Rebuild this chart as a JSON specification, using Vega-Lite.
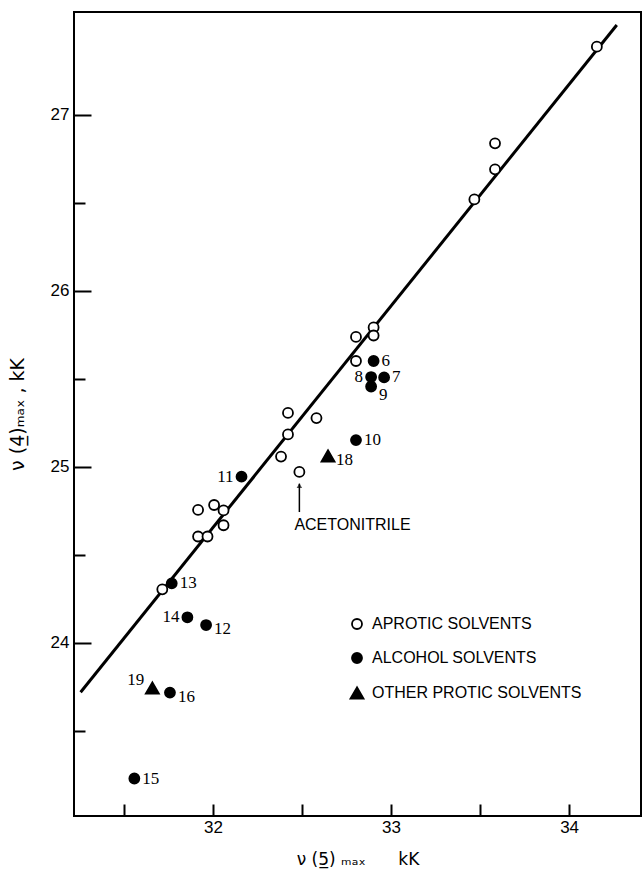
{
  "$schema": "https://vega.github.io/schema/vega-lite/v6.json",
  "width": 567,
  "height": 804,
  "autosize": {"type": "none"},
  "padding": {"left": 74, "top": 12, "right": 1, "bottom": 61},
  "background": "white",
  "config": {
    "view": {"stroke": "black", "strokeWidth": 2},
    "axis": {
      "domain": false,
      "grid": false,
      "tickColor": "black",
      "tickWidth": 2,
      "labelColor": "black",
      "labelFont": "Liberation Sans",
      "labelFontSize": 17,
      "titleColor": "black",
      "titleFont": "DejaVu Sans",
      "titleFontSize": 17,
      "titleFontWeight": "normal"
    },
    "legend": {
      "labelFont": "Liberation Sans",
      "labelFontSize": 16,
      "labelColor": "black",
      "labelLimit": 0,
      "symbolStrokeColor": "black",
      "symbolStrokeWidth": 1.8
    }
  },
  "resolve": {"axis": {"y": "independent"}},
  "datasets": {
    "pts": [
      {"label": "", "type": "APROTIC SOLVENTS", "x": 34.156, "y": 27.388},
      {"label": "", "type": "APROTIC SOLVENTS", "x": 33.584, "y": 26.839},
      {"label": "", "type": "APROTIC SOLVENTS", "x": 33.584, "y": 26.691},
      {"label": "", "type": "APROTIC SOLVENTS", "x": 33.468, "y": 26.52},
      {"label": "", "type": "APROTIC SOLVENTS", "x": 32.803, "y": 25.739},
      {"label": "", "type": "APROTIC SOLVENTS", "x": 32.902, "y": 25.793},
      {"label": "", "type": "APROTIC SOLVENTS", "x": 32.902, "y": 25.747},
      {"label": "", "type": "APROTIC SOLVENTS", "x": 32.803, "y": 25.602},
      {"label": "", "type": "APROTIC SOLVENTS", "x": 32.421, "y": 25.307},
      {"label": "", "type": "APROTIC SOLVENTS", "x": 32.581, "y": 25.278},
      {"label": "", "type": "APROTIC SOLVENTS", "x": 32.421, "y": 25.185},
      {"label": "", "type": "APROTIC SOLVENTS", "x": 32.382, "y": 25.059},
      {"label": "", "type": "APROTIC SOLVENTS", "x": 32.485, "y": 24.972},
      {"label": "", "type": "APROTIC SOLVENTS", "x": 31.916, "y": 24.756},
      {"label": "", "type": "APROTIC SOLVENTS", "x": 32.006, "y": 24.784},
      {"label": "", "type": "APROTIC SOLVENTS", "x": 32.059, "y": 24.753},
      {"label": "", "type": "APROTIC SOLVENTS", "x": 32.059, "y": 24.669},
      {"label": "", "type": "APROTIC SOLVENTS", "x": 31.916, "y": 24.605},
      {"label": "", "type": "APROTIC SOLVENTS", "x": 31.969, "y": 24.605},
      {"label": "", "type": "APROTIC SOLVENTS", "x": 31.715, "y": 24.305},
      {"label": "6", "type": "ALCOHOL SOLVENTS", "x": 32.902, "y": 25.602},
      {"label": "7", "type": "ALCOHOL SOLVENTS", "x": 32.961, "y": 25.509},
      {"label": "8", "type": "ALCOHOL SOLVENTS", "x": 32.888, "y": 25.511},
      {"label": "9", "type": "ALCOHOL SOLVENTS", "x": 32.888, "y": 25.457},
      {"label": "10", "type": "ALCOHOL SOLVENTS", "x": 32.803, "y": 25.153},
      {"label": "11", "type": "ALCOHOL SOLVENTS", "x": 32.16, "y": 24.945},
      {"label": "12", "type": "ALCOHOL SOLVENTS", "x": 31.961, "y": 24.102},
      {"label": "13", "type": "ALCOHOL SOLVENTS", "x": 31.768, "y": 24.339},
      {"label": "14", "type": "ALCOHOL SOLVENTS", "x": 31.856, "y": 24.146},
      {"label": "15", "type": "ALCOHOL SOLVENTS", "x": 31.558, "y": 23.23},
      {"label": "16", "type": "ALCOHOL SOLVENTS", "x": 31.758, "y": 23.718},
      {"label": "18", "type": "OTHER PROTIC SOLVENTS", "x": 32.646, "y": 25.063},
      {"label": "19", "type": "OTHER PROTIC SOLVENTS", "x": 31.659, "y": 23.744}
    ],
    "fit": [
      {"x": 31.256, "y": 23.72},
      {"x": 34.268, "y": 27.511}
    ],
    "arrow": [
      {"text": "ACETONITRILE", "x": 32.485, "y": 24.744, "y2": 24.905}
    ]
  },
  "layer": [
    {
      "data": {"name": "fit"},
      "mark": {"type": "line", "color": "black", "strokeWidth": 3},
      "encoding": {
        "x": {
          "field": "x", "type": "quantitative",
          "scale": {"domain": [31.219, 34.404], "nice": false, "zero": false},
          "axis": {
            "values": [31.5, 32, 32.5, 33, 33.5, 34],
            "labelExpr": "datum.value % 1 === 0 ? format(datum.value, 'd') : ''",
            "offset": -12,
            "tickSize": 12,
            "labelPadding": 3,
            "title": "ν (5̲)\u00a0ₘₐₓ\u00a0\u00a0\u00a0\u00a0\u00a0\u00a0kK",
            "titlePadding": 16
          }
        },
        "y": {
          "field": "y", "type": "quantitative",
          "scale": {"domain": [23.017, 27.585], "nice": false, "zero": false},
          "axis": {
            "orient": "left",
            "values": [24, 25, 26, 27],
            "format": "d",
            "offset": -17,
            "tickSize": 17,
            "labelPadding": 5,
            "title": "ν (4̲)ₘₐₓ , kK",
            "titleFontSize": 19,
            "titlePadding": 23
          }
        }
      }
    },
    {
      "data": {"name": "arrow"},
      "mark": {"type": "rule", "color": "black", "strokeWidth": 1.5},
      "encoding": {
        "x": {"field": "x", "type": "quantitative"},
        "y": {
          "field": "y", "type": "quantitative",
          "axis": {
            "orient": "right",
            "values": [23.5, 24.5, 25.5, 26.5],
            "offset": -567,
            "tickSize": 11,
            "labels": false,
            "title": null
          }
        },
        "y2": {"field": "y2"}
      }
    },
    {
      "data": {"name": "arrow"},
      "mark": {"type": "point", "shape": "triangle-up", "filled": true, "color": "black", "size": 30, "yOffset": 2},
      "encoding": {
        "x": {"field": "x", "type": "quantitative"},
        "y": {"field": "y2", "type": "quantitative", "axis": null}
      }
    },
    {
      "data": {"name": "arrow"},
      "mark": {"type": "text", "align": "left", "baseline": "middle", "dx": -5, "dy": 13, "font": "Liberation Sans", "fontSize": 16, "color": "black"},
      "encoding": {
        "x": {"field": "x", "type": "quantitative"},
        "y": {"field": "y", "type": "quantitative", "axis": null},
        "text": {"field": "text"}
      }
    },
    {
      "data": {"name": "pts"},
      "mark": {"type": "point", "filled": false, "color": "black", "strokeWidth": 1.8, "opacity": 1},
      "encoding": {
        "x": {"field": "x", "type": "quantitative"},
        "y": {"field": "y", "type": "quantitative", "axis": null},
        "shape": {
          "field": "type", "type": "nominal",
          "scale": {"domain": ["APROTIC SOLVENTS", "ALCOHOL SOLVENTS", "OTHER PROTIC SOLVENTS"], "range": ["circle", "circle", "triangle-up"]},
          "legend": {
            "title": null,
            "orient": "none",
            "legendX": 275,
            "legendY": 604,
            "rowPadding": 16,
            "labelOffset": 7,
            "symbolStrokeColor": "black",
            "symbolStrokeWidth": 1.8,
            "symbolOpacity": 1,
            "encode": {
              "symbols": {"update": {
                "size": {"signal": "datum.value === 'OTHER PROTIC SOLVENTS' ? 170 : 100"},
                "stroke": {"value": "black"},
                "strokeWidth": {"value": 1.8}
              }}
            }
          }
        },
        "fill": {
          "field": "type", "type": "nominal",
          "scale": {"domain": ["APROTIC SOLVENTS", "ALCOHOL SOLVENTS", "OTHER PROTIC SOLVENTS"], "range": ["white", "black", "black"]},
          "legend": {
            "title": null,
            "orient": "none",
            "legendX": 275,
            "legendY": 604,
            "rowPadding": 16,
            "labelOffset": 7,
            "symbolStrokeColor": "black",
            "symbolStrokeWidth": 1.8,
            "symbolOpacity": 1,
            "encode": {
              "symbols": {"update": {
                "size": {"signal": "datum.value === 'OTHER PROTIC SOLVENTS' ? 170 : 100"},
                "stroke": {"value": "black"},
                "strokeWidth": {"value": 1.8}
              }}
            }
          }
        },
        "size": {
          "condition": {"test": "datum.type === 'OTHER PROTIC SOLVENTS'", "value": 170},
          "value": 100
        }
      }
    },
    {
      "data": {"name": "pts"},
      "transform": [{"filter": "indexof(['6','7','10','13','15'], datum.label) >= 0"}],
      "mark": {"type": "text", "align": "left", "baseline": "middle", "dx": 8, "font": "Liberation Serif", "fontSize": 17, "color": "black"},
      "encoding": {
        "x": {"field": "x", "type": "quantitative"},
        "y": {"field": "y", "type": "quantitative", "axis": null},
        "text": {"field": "label"}
      }
    },
    {
      "data": {"name": "pts"},
      "transform": [{"filter": "indexof(['12','16','18'], datum.label) >= 0"}],
      "mark": {"type": "text", "align": "left", "baseline": "middle", "dx": 8, "dy": 4, "font": "Liberation Serif", "fontSize": 17, "color": "black"},
      "encoding": {
        "x": {"field": "x", "type": "quantitative"},
        "y": {"field": "y", "type": "quantitative", "axis": null},
        "text": {"field": "label"}
      }
    },
    {
      "data": {"name": "pts"},
      "transform": [{"filter": "datum.label === '9'"}],
      "mark": {"type": "text", "align": "left", "baseline": "middle", "dx": 8, "dy": 8, "font": "Liberation Serif", "fontSize": 17, "color": "black"},
      "encoding": {
        "x": {"field": "x", "type": "quantitative"},
        "y": {"field": "y", "type": "quantitative", "axis": null},
        "text": {"field": "label"}
      }
    },
    {
      "data": {"name": "pts"},
      "transform": [{"filter": "indexof(['8','11','14'], datum.label) >= 0"}],
      "mark": {"type": "text", "align": "right", "baseline": "middle", "dx": -8, "font": "Liberation Serif", "fontSize": 17, "color": "black"},
      "encoding": {
        "x": {"field": "x", "type": "quantitative"},
        "y": {"field": "y", "type": "quantitative", "axis": null},
        "text": {"field": "label"}
      }
    },
    {
      "data": {"name": "pts"},
      "transform": [{"filter": "datum.label === '19'"}],
      "mark": {"type": "text", "align": "right", "baseline": "middle", "dx": -8, "dy": -8, "font": "Liberation Serif", "fontSize": 17, "color": "black"},
      "encoding": {
        "x": {"field": "x", "type": "quantitative"},
        "y": {"field": "y", "type": "quantitative", "axis": null},
        "text": {"field": "label"}
      }
    }
  ]
}
